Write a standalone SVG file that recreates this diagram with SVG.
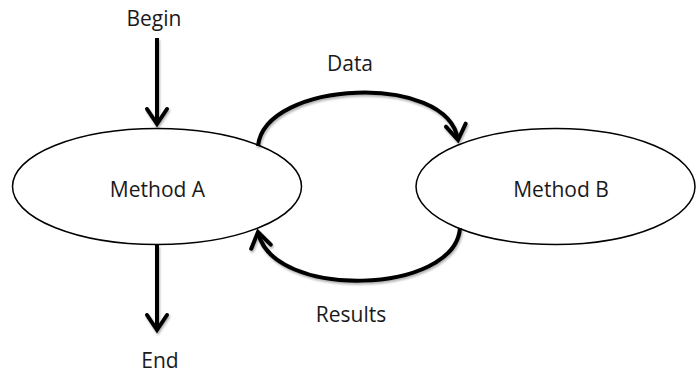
<svg xmlns="http://www.w3.org/2000/svg" width="696" height="376" viewBox="0 0 696 376">
  <style>
    .node { fill: #ffffff; stroke: #000000; stroke-width: 1.5; }
    .label { font-family: "Open Sans", "Liberation Sans", sans-serif; font-size: 21px; fill: #1a1a1a; text-anchor: middle; }
    .edge { fill: none; stroke: #000000; stroke-width: 4; filter: url(#shadow); }
  </style>
  <defs>
    <filter id="shadow" filterUnits="userSpaceOnUse" x="0" y="0" width="696" height="376">
      <feDropShadow dx="1" dy="2" stdDeviation="1.2" flood-color="#000000" flood-opacity="0.3"/>
    </filter>
    <marker id="arrow" markerUnits="userSpaceOnUse" markerWidth="30" markerHeight="30" viewBox="-20 -15 30 30" refX="0" refY="0" orient="auto" overflow="visible">
      <path d="M-15,-10 L0,0 L-15,10" fill="none" stroke="#000000" stroke-width="4" stroke-linejoin="miter" stroke-linecap="round"/>
    </marker>
  </defs>

  <g id="method-a">
    <ellipse class="node" cx="157" cy="186.5" rx="144.5" ry="58"/>
    <text class="label" x="157.5" y="197">Method A</text>
  </g>

  <g id="method-b">
    <ellipse class="node" cx="555.5" cy="186.5" rx="139.5" ry="58"/>
    <text class="label" x="561" y="197">Method B</text>
  </g>

  <g id="connectors">
    <path class="edge" d="M157,38 L157,124" marker-end="url(#arrow)"/>
    <path class="edge" d="M157,245 L157,330" marker-end="url(#arrow)"/>
    <path class="edge" d="M258,146 C265,80 448,72 458,140" marker-end="url(#arrow)"/>
    <path class="edge" d="M460,228 C455,295 272,300 258,232" marker-end="url(#arrow)"/>
  </g>

  <g id="labels">
    <text class="label" x="154" y="26">Begin</text>
    <text class="label" x="350" y="71">Data</text>
    <text class="label" x="351" y="322">Results</text>
    <text class="label" x="160" y="368">End</text>
  </g>
</svg>
